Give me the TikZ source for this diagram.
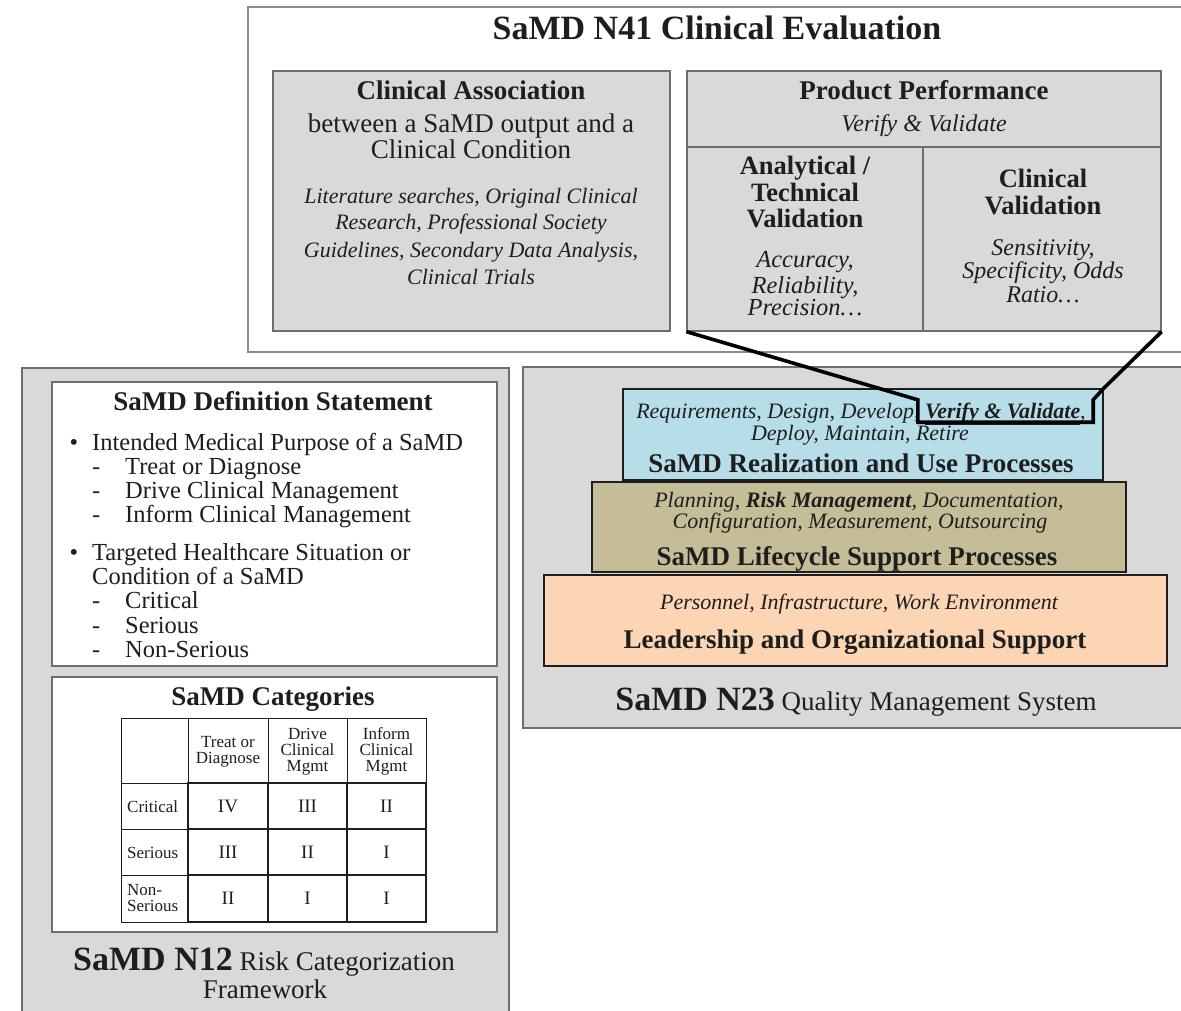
\documentclass[tikz,border=0pt]{standalone}
\usepackage{fontspec}
\setmainfont{Liberation Serif}
\usetikzlibrary{fit,calc}
\newcommand\fsz[2]{\fontsize{#1}{#2}\selectfont}
\definecolor{boxgray}{HTML}{D9D9D9}
\definecolor{realblue}{HTML}{B7DEE8}
\definecolor{lifetan}{HTML}{C4BD97}
\definecolor{leadpeach}{HTML}{FCD5B5}
\definecolor{edgegray}{HTML}{6E6E6E}
\definecolor{ink}{HTML}{1E1E1E}
\begin{document}
\begin{tikzpicture}[x=1pt,y=-1pt,
  panel/.style={draw=edgegray, line width=1.3pt, inner sep=0pt},
  tier/.style={draw=ink, line width=1.4pt, inner sep=0pt},
  lbl/.style={anchor=base, inner sep=0pt, text=ink},
  lblw/.style={anchor=base west, inner sep=0pt, text=ink},
  thin/.style={draw=ink, line width=0.9pt},
  thick/.style={draw=ink, line width=2.6pt, line cap=rect},
  callout/.style={draw=black, line width=3.6pt, line join=miter}
]
\useasboundingbox (0,0) rectangle (1181,1011);
\fill[white] (0,0) rectangle (1181,1011);

% ================= N41 =================
\node[panel, draw=black!45, fill=white, fit={(248,7) (1186,352)}] (n41) {};
\node[lbl] (t41) at (717,40) {\fsz{34}{36}\bfseries SaMD N41 Clinical Evaluation};

\node[panel, fill=boxgray, fit={(273,71) (670,331)}] (ca) {};
\node[lbl] (ca1) at (471,100) {\fsz{27}{27}\bfseries Clinical Association};
\node[lbl] (ca2) at (471,133) {\fsz{27}{27}between a SaMD output and a};
\node[lbl] (ca3) at (471,159) {\fsz{27}{27}Clinical Condition};
\node[lbl] (ca4) at (471,204) {\fsz{22}{22}\itshape Literature searches, Original Clinical};
\node[lbl] (ca5) at (471,230) {\fsz{22}{22}\itshape Research, Professional Society};
\node[lbl] (ca6) at (471,258) {\fsz{22}{22}\itshape Guidelines, Secondary Data Analysis,};
\node[lbl] (ca7) at (471,284) {\fsz{22}{22}\itshape Clinical Trials};

\node[panel, fill=boxgray, fit={(687,71) (1161,331)}] (pp) {};
\draw[panel] (687,147) -- (1161,147);
\draw[panel] (923,147) -- (923,331);
\node[lbl] (pp1) at (924,100) {\fsz{27}{27}\bfseries Product Performance};
\node[lbl] (pp2) at (924,132) {\fsz{24}{24}\itshape Verify \& Validate};
\node[lbl] (av1) at (805,175) {\fsz{26.5}{26}\bfseries Analytical /};
\node[lbl] (av2) at (805,202) {\fsz{26.5}{26}\bfseries Technical};
\node[lbl] (av3) at (805,228) {\fsz{26.5}{26}\bfseries Validation};
\node[lbl] (av4) at (805,268) {\fsz{24.5}{24}\itshape Accuracy,};
\node[lbl] (av5) at (805,293) {\fsz{24.5}{24}\itshape Reliability,};
\node[lbl] (av6) at (805,316) {\fsz{24.5}{24}\itshape Precision\ldots};
\node[lbl] (cv1) at (1043,188) {\fsz{26.5}{26}\bfseries Clinical};
\node[lbl] (cv2) at (1043,215) {\fsz{26.5}{26}\bfseries Validation};
\node[lbl] (cv3) at (1043,255) {\fsz{24}{24}\itshape Sensitivity,};
\node[lbl] (cv4) at (1043,278) {\fsz{24}{24}\itshape Specificity, Odds};
\node[lbl] (cv5) at (1043,302) {\fsz{24}{24}\itshape Ratio\ldots};

% ================= N23 =================
\node[panel, fill=boxgray, fit={(523,367) (1186,728)}] (n23) {};
\node[tier, fill=realblue, fit={(623,389) (1103,480)}] (real) {};
\node[tier, fill=lifetan, fit={(592,482) (1126,572)}] (life) {};
\node[tier, fill=leadpeach, fit={(544,575) (1167,666)}] (lead) {};

\node[lbl] (r1) at (861,418) {\fsz{22}{22}\itshape Requirements, Design, Develop, \underline{\bfseries Verify \& Validate},};
\node[lbl] (r2) at (860,440) {\fsz{22}{22}\itshape Deploy, Maintain, Retire};
\node[lbl] (r3) at (861,472) {\fsz{27}{27}\bfseries SaMD Realization and Use Processes};
\node[lbl] (l1) at (859,507) {\fsz{22}{22}\itshape Planning, {\bfseries Risk Management}, Documentation,};
\node[lbl] (l2) at (860,528) {\fsz{22}{22}\itshape Configuration, Measurement, Outsourcing};
\node[lbl] (l3) at (857,565) {\fsz{27}{27}\bfseries SaMD Lifecycle Support Processes};
\node[lbl] (o1) at (859,609) {\fsz{22}{22}\itshape Personnel, Infrastructure, Work Environment};
\node[lbl] (o2) at (855,648) {\fsz{27}{27}\bfseries Leadership and Organizational Support};
\node[lbl] (t23) at (856,710) {\fsz{34}{36}\bfseries SaMD N23\fsz{27}{27}\mdseries{} Quality Management System};

% ================= N12 =================
\node[panel, fill=boxgray, fit={(22,368) (509,1016)}] (n12) {};
\node[panel, fill=white, fit={(52,382) (497,666)}] (defbox) {};
\node[panel, fill=white, fit={(52,677) (497,932)}] (catbox) {};

\node[lbl] (d0) at (273,410) {\fsz{27}{27}\bfseries SaMD Definition Statement};
\node[lbl] (b1) at (74,450) {\fsz{24.5}{24}\textbullet};
\node[lblw] (d1) at (92,450) {\fsz{24.5}{24}Intended Medical Purpose of a SaMD};
\node[lblw] (h1) at (92,474) {\fsz{24.5}{24}-};
\node[lblw] (d2) at (125,474) {\fsz{24.5}{24}Treat or Diagnose};
\node[lblw] (h2) at (92,498) {\fsz{24.5}{24}-};
\node[lblw] (d3) at (125,498) {\fsz{24.5}{24}Drive Clinical Management};
\node[lblw] (h3) at (92,522) {\fsz{24.5}{24}-};
\node[lblw] (d4) at (125,522) {\fsz{24.5}{24}Inform Clinical Management};
\node[lbl] (b2) at (74,560) {\fsz{24.5}{24}\textbullet};
\node[lblw] (d5) at (92,560) {\fsz{24.5}{24}Targeted Healthcare Situation or};
\node[lblw] (d6) at (92,584) {\fsz{24.5}{24}Condition of a SaMD};
\node[lblw] (h4) at (92,608) {\fsz{24.5}{24}-};
\node[lblw] (d7) at (125,608) {\fsz{24.5}{24}Critical};
\node[lblw] (h5) at (92,633) {\fsz{24.5}{24}-};
\node[lblw] (d8) at (125,633) {\fsz{24.5}{24}Serious};
\node[lblw] (h6) at (92,657) {\fsz{24.5}{24}-};
\node[lblw] (d9) at (125,657) {\fsz{24.5}{24}Non-Serious};

\node[lbl] (c0) at (273,705) {\fsz{27}{27}\bfseries SaMD Categories};
% table grid
\draw[thin] (121,718) rectangle (426,783);
\foreach \xx in {188,268,347} \draw[thin] (\xx,718) -- (\xx,783);
\draw[thin] (121,783) rectangle (188,922);
\foreach \yy in {829,875} \draw[thin] (121,\yy) -- (188,\yy);
\foreach \xx in {188,268,347,426} \draw[thick] (\xx,783) -- (\xx,922);
\foreach \yy in {783,829,875,922} \draw[thick] (188,\yy) -- (426,\yy);
% headers
\node[lbl] (th1) at (228,747) {\fsz{17}{16}Treat or};
\node[lbl] (th2) at (228,763) {\fsz{17}{16}Diagnose};
\node[lbl] (th3) at (307.5,739) {\fsz{17}{16}Drive};
\node[lbl] (th4) at (307.5,755) {\fsz{17}{16}Clinical};
\node[lbl] (th5) at (307.5,771) {\fsz{17}{16}Mgmt};
\node[lbl] (th6) at (386.5,739) {\fsz{17}{16}Inform};
\node[lbl] (th7) at (386.5,755) {\fsz{17}{16}Clinical};
\node[lbl] (th8) at (386.5,771) {\fsz{17}{16}Mgmt};
\node[lblw] (rl1) at (127,812) {\fsz{17}{16}Critical};
\node[lblw] (rl2) at (127,858) {\fsz{17}{16}Serious};
\node[lblw] (rl3) at (127,895) {\fsz{17}{16}Non-};
\node[lblw] (rl4) at (127,911) {\fsz{17}{16}Serious};
% values
\node[lbl] (v11) at (228,812) {\fsz{19}{19}IV};
\node[lbl] (v12) at (307.5,812) {\fsz{19}{19}III};
\node[lbl] (v13) at (386.5,812) {\fsz{19}{19}II};
\node[lbl] (v21) at (228,858) {\fsz{19}{19}III};
\node[lbl] (v22) at (307.5,858) {\fsz{19}{19}II};
\node[lbl] (v23) at (386.5,858) {\fsz{19}{19}I};
\node[lbl] (v31) at (228,904) {\fsz{19}{19}II};
\node[lbl] (v32) at (307.5,904) {\fsz{19}{19}I};
\node[lbl] (v33) at (386.5,904) {\fsz{19}{19}I};

\node[lbl] (t12) at (264,970) {\fsz{34}{36}\bfseries SaMD N12\fsz{27}{27}\mdseries{} Risk Categorization};
\node[lbl] (t12b) at (265,998) {\fsz{27}{27}Framework};

% ================= callout =================
\node[inner sep=0pt, fit={(918,400) (1093,422)}] (hl) {};
\draw[callout] (pp.south west) -- (hl.north west) -- (hl.south west) -- (hl.south east) -- (hl.north east) -- (real.north east) -- (pp.south east);
\end{tikzpicture}
\end{document}
